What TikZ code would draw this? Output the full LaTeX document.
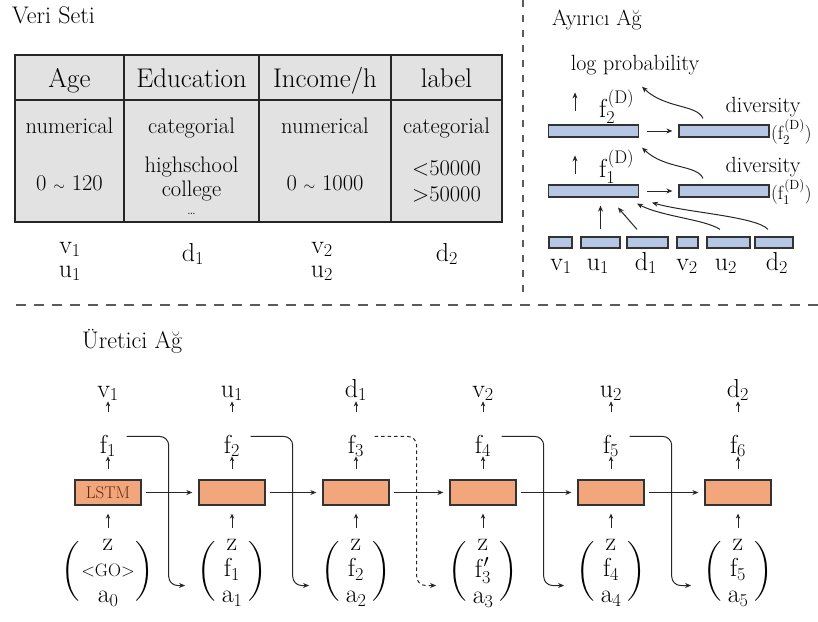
\RequirePackage{fix-cm}
\documentclass[tikz,border=0pt]{standalone}
\usepackage{amsmath}
\usetikzlibrary{arrows.meta}
\definecolor{tgray}{RGB}{226,226,226}
\definecolor{lorange}{RGB}{241,166,124}
\definecolor{dblue}{RGB}{181,199,228}
\definecolor{dgray}{RGB}{90,90,90}
\definecolor{lstmtxt}{RGB}{100,40,15}
\newcommand\fHdr{\fontsize{27}{30}\selectfont}
\newcommand\fBody{\fontsize{22.5}{25}\selectfont}
\newcommand\fTitle{\fontsize{22}{26}\selectfont}
\newcommand\fBig{\fontsize{24}{28}\selectfont}
\newcommand\fMath{\fontsize{26}{28}\selectfont}
\newcommand\fRight{\fontsize{19}{22}\selectfont}
\newcommand\fGo{\fontsize{18}{20}\selectfont}
\newcommand\vecthree[3]{\bigg(\begin{array}{c}#1\\ #2\\ #3\end{array}\bigg)}
\renewcommand{\arraystretch}{0.92}
\setlength{\arraycolsep}{6pt}
\begin{document}
\begin{tikzpicture}[x=1pt,y=-1pt,
  txt/.style={inner sep=0pt, text=black},
  lab/.style={inner sep=0pt, text=black, font=\fMath},
  lstm/.style={draw=black!80, fill=lorange, line width=1.3pt, minimum width=66pt, minimum height=25pt, inner sep=0pt},
  dbar/.style={draw=black!80, fill=dblue, line width=1.2pt, inner sep=0pt, minimum height=12pt},
  arr/.style={-{Stealth[length=6pt,width=5pt]}, line width=1pt, draw=black!85},
  sar/.style={-{Stealth[length=5pt,width=4.5pt]}, line width=1pt, draw=black!85},
  fconn/.style={-{Stealth[length=6pt,width=5pt]}, line width=1pt, draw=black!85, rounded corners=9pt}
]
\useasboundingbox (0,0) rectangle (818,621);

% separators
\draw[dgray, line width=2pt, dash pattern=on 10pt off 8pt] (16,305) -- (818,305);
\draw[dgray, line width=1.8pt, dash pattern=on 7pt off 8pt] (523,0) -- (523,292);

% titles
\node[txt, anchor=base west] (tveri) at (12,23) {\fBig Veri Seti};
\node[txt, anchor=base west] (tayir) at (552,25) {\fTitle Ayırıcı Ağ};
\node[txt, anchor=base west] (turet) at (82,348) {\fBig Üretici Ağ};

% table
\draw[fill=tgray, line width=2.2pt, draw=black!85] (15,55) rectangle (502,222);
\draw[line width=2.6pt, draw=black!85] (15,100) -- (502,100);
\foreach \x in {124,259,391} \draw[line width=1.6pt, draw=black!85] (\x,55) -- (\x,222);

\node[txt, anchor=base] (hage) at (69.5,87) {\fHdr Age};
\node[txt, anchor=base] (hedu) at (191.5,87) {\fHdr Education};
\node[txt, anchor=base] (hinc) at (325,87) {\fHdr Income/h};
\node[txt, anchor=base] (hlab) at (446.5,87) {\fHdr label};

\node[txt, anchor=base] (t11) at (69.5,133) {\fBody numerical};
\node[txt, anchor=base] (t12) at (191.5,133) {\fBody categorial};
\node[txt, anchor=base] (t13) at (325,133) {\fBody numerical};
\node[txt, anchor=base] (t14) at (446.5,133) {\fBody categorial};

\node[txt, anchor=base] (t21) at (69.5,190) {\fBody 0 {\fontsize{15}{15}\selectfont$\sim$} 120};
\node[txt, anchor=base] (t22a) at (191.5,172) {\fBody highschool};
\node[txt, anchor=base] (t22b) at (191.5,196) {\fBody college};
\node[txt, anchor=base] (t22c) at (191.5,214) {\fontsize{15}{15}\selectfont\dots};
\node[txt, anchor=base] (t23) at (325,190) {\fBody 0 {\fontsize{15}{15}\selectfont$\sim$} 1000};
\node[txt, anchor=base] (t24a) at (446.5,175) {\fBody $<$50000};
\node[txt, anchor=base] (t24b) at (446.5,201) {\fBody $>$50000};

\node[lab, anchor=base] (cv1) at (70,253) {$\mathrm{v}_1$};
\node[lab, anchor=base] (cu1) at (70,277) {$\mathrm{u}_1$};
\node[lab, anchor=base] (cd1) at (193,261) {$\mathrm{d}_1$};
\node[lab, anchor=base] (cv2) at (322,253) {$\mathrm{v}_2$};
\node[lab, anchor=base] (cu2) at (322,277) {$\mathrm{u}_2$};
\node[lab, anchor=base] (cd2) at (447,261) {$\mathrm{d}_2$};

% discriminator
\node[txt, anchor=base] (lp) at (635,70) {\fTitle log probability};
\node[dbar, minimum width=90pt] (dl2) at (593.5,131) {};
\node[dbar, minimum width=90pt] (dr2) at (724,131) {};
\node[dbar, minimum width=90pt] (dl1) at (593.5,191) {};
\node[dbar, minimum width=90pt] (dr1) at (724,191) {};
\node[lab, anchor=base west] (fd2) at (599,117) {$\mathrm{f}_2^{(\mathrm{D})}$};
\node[lab, anchor=base west] (fd1) at (599,177) {$\mathrm{f}_1^{(\mathrm{D})}$};
\node[txt, anchor=base] (dv2) at (763,112) {\fTitle diversity};
\node[txt, anchor=base] (dv1) at (763,172) {\fTitle diversity};
\node[txt, anchor=west] (rl2) at (771,132) {\fRight $(\mathrm{f}_2^{(\mathrm{D})})$};
\node[txt, anchor=west] (rl1) at (771,192) {\fRight $(\mathrm{f}_1^{(\mathrm{D})})$};

\node[dbar, minimum width=23pt, minimum height=11pt] (e1) at (560.5,242.5) {};
\node[dbar, minimum width=39pt, minimum height=11pt] (e2) at (600.5,242.5) {};
\node[dbar, minimum width=41pt, minimum height=11pt] (e3) at (647.5,242.5) {};
\node[dbar, minimum width=21pt, minimum height=11pt] (e4) at (687.5,242.5) {};
\node[dbar, minimum width=43pt, minimum height=11pt] (e5) at (728.5,242.5) {};
\node[dbar, minimum width=38pt, minimum height=11pt] (e6) at (774,242.5) {};
\node[lab, anchor=base] (le1) at (561,270) {$\mathrm{v}_1$};
\node[lab, anchor=base] (le2) at (598,270) {$\mathrm{u}_1$};
\node[lab, anchor=base] (le3) at (646,270) {$\mathrm{d}_1$};
\node[lab, anchor=base] (le4) at (687,270) {$\mathrm{v}_2$};
\node[lab, anchor=base] (le5) at (726,270) {$\mathrm{u}_2$};
\node[lab, anchor=base] (le6) at (777,270) {$\mathrm{d}_2$};

\draw[arr, shorten <=8pt, shorten >=6pt] (dl2.east) -- (dr2.west);
\draw[arr, shorten <=8pt, shorten >=6pt] (dl1.east) -- (dr1.west);
\draw[arr] ([xshift=-18.5pt,yshift=13pt]dl2.north) -- ([xshift=-18.5pt,yshift=32pt]dl2.north);
\draw[arr] ([xshift=-18.5pt,yshift=10pt]dl1.north) -- ([xshift=-18.5pt,yshift=29pt]dl1.north);
\draw[arr] ([xshift=-21pt,yshift=6pt]dr2.north) .. controls +(-6,-14) and +(23,22) .. ([xshift=7pt,yshift=-12pt]lp.south);
\draw[arr] ([xshift=-21pt,yshift=6pt]dr1.north) .. controls +(-6,-14) and +(23,22) .. ([xshift=48.5pt,yshift=-10pt]dl2.south);
\draw[arr, shorten <=7pt, shorten >=8pt] (e2.north) -- (e2.north |- dl1.south);
\draw[arr] ([xshift=-10.5pt,yshift=7pt]e3.north) -- ([xshift=24.5pt,yshift=-10pt]dl1.south);
\draw[arr] ([xshift=-8.5pt,yshift=7pt]e5.north) .. controls +(-15,-10) and +(25,13) .. ([xshift=43.5pt,yshift=-6pt]dl1.south);
\draw[arr] ([xshift=-6pt,yshift=7pt]e6.north) .. controls +(-12,-13) and +(35,10) .. ([xshift=58.5pt,yshift=-5pt]dl1.south);

% generator
\foreach \i/\x/\o in {1/108/v_1,2/232/u_1,3/356/d_1,4/483/v_2,5/611/u_2,6/738/d_2}{
  \node[lstm] (b\i) at (\x,492.5) {};
  \node[lab, anchor=base] (o\i) at (\x,397) {$\mathrm{\o}$};
  \node[lab, anchor=base] (f\i) at (\x,453) {$\mathrm{f}_{\i}$};
  \draw[sar] ([yshift=10pt]b\i.north) -- ([yshift=23pt]b\i.north);
  \draw[sar] ([yshift=67pt]b\i.north) -- ([yshift=78pt]b\i.north);
  \draw[sar] ([yshift=-22pt]b\i.south) -- ([yshift=-8pt]b\i.south);
}
\node[txt, text=lstmtxt] (lstmlab) at (b1.center) {\fontsize{17}{19}\selectfont LSTM};

\node[lab] (p1) at (108,571.5) {$\setlength{\arraycolsep}{1pt}\vecthree{\mathrm{z}}{\text{\fGo <GO>}}{\mathrm{a}_0}$};
\node[lab] (p2) at (232,571.5) {$\vecthree{\mathrm{z}}{\mathrm{f}_1}{\mathrm{a}_1}$};
\node[lab] (p3) at (356,571.5) {$\vecthree{\mathrm{z}}{\mathrm{f}_2}{\mathrm{a}_2}$};
\node[lab] (p4) at (483,571.5) {$\vecthree{\mathrm{z}}{\mathrm{f}'_3}{\mathrm{a}_3}$};
\node[lab] (p5) at (611,571.5) {$\vecthree{\mathrm{z}}{\mathrm{f}_4}{\mathrm{a}_4}$};
\node[lab] (p6) at (738,571.5) {$\vecthree{\mathrm{z}}{\mathrm{f}_5}{\mathrm{a}_5}$};

\foreach \i/\j in {1/2,2/3,3/4,4/5,5/6}
  \draw[arr, shorten <=4pt, shorten >=6pt] (b\i.east) -- (b\j.west);

\foreach \i/\j in {1/2,2/3,4/5,5/6}
  \draw[fconn] ([xshift=10.5pt,yshift=9.5pt]f\i.east) -- ++(42,0) |- ([xshift=-12pt,yshift=-14pt]p\j.west);
\draw[fconn, dash pattern=on 3.5pt off 3pt] ([xshift=10.5pt,yshift=9.5pt]f3.east) -- ++(42,0) |- ([xshift=-12pt,yshift=-14pt]p4.west);
\end{tikzpicture}
\end{document}
